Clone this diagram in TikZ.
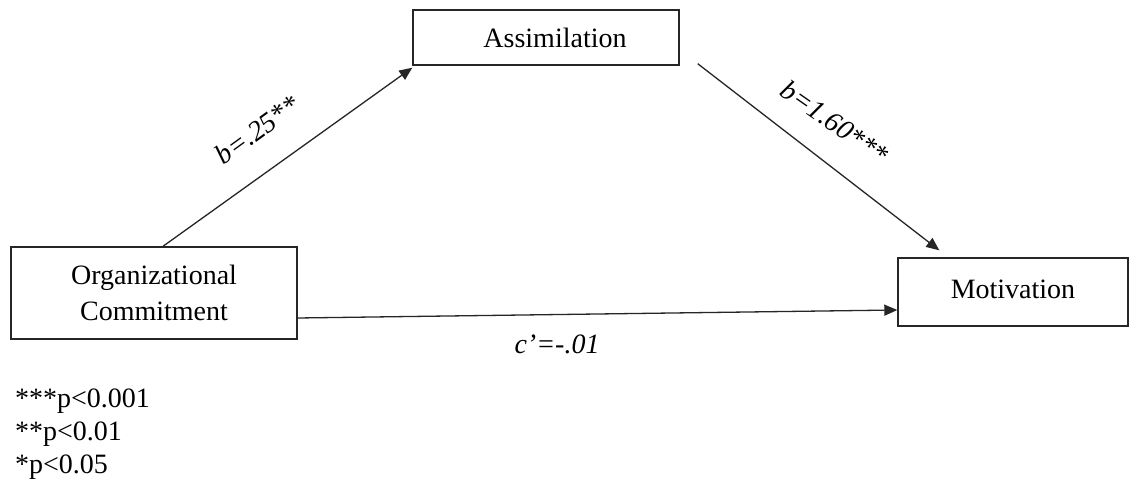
\documentclass[tikz,border=0pt]{standalone}
\usepackage{fontspec}
\setmainfont{Liberation Serif}
\usetikzlibrary{arrows.meta}
\begin{document}
\begin{tikzpicture}[x=1pt,y=-1pt,
  box/.style={draw=black!85, line width=1.4pt, rectangle, inner sep=0pt, align=center,
    font=\fontsize{28}{36}\selectfont},
  conn/.style={draw=black!85, line width=1.3pt, -{Triangle[length=13pt,width=11pt]}},
  lab/.style={inner sep=0pt, font=\fontsize{28}{34}\selectfont\itshape},
  leg/.style={inner sep=0pt, anchor=base west, font=\fontsize{28}{34}\selectfont}]
\useasboundingbox (0,0) rectangle (1130,486);
\fill[white] (0,0) rectangle (1130,486);
\node[box, minimum width=286pt, minimum height=92pt] (oc) at (154,293) {Organizational\\Commitment};
\node[box, minimum width=266pt, minimum height=55pt] (assim) at (546,37.5) {\hspace*{18pt}Assimilation};
\node[box, minimum width=230pt, minimum height=68pt] (mot) at (1013,292) {\raisebox{6pt}{Motivation}};
\draw[conn] ([xshift=9pt]oc.north) -- ([yshift=-2pt]assim.south west);
\draw[conn] ([xshift=18pt,yshift=2pt]assim.south east) -- ([xshift=42pt,yshift=7pt]mot.north west);
\draw[conn] ([yshift=-25pt]oc.east) -- ([yshift=-18pt]mot.west);
\node[lab, rotate=36] (l1) at (257,130) {b=.25**};
\node[lab, rotate=-35] (l2) at (835,122) {b=1.60***};
\node[lab, anchor=base] (l3) at (557,353) {c’=-.01};
\node[leg] (p1) at (15,407) {***p<0.001};
\node[leg] (p2) at (15,440) {**p<0.01};
\node[leg] (p3) at (15,473) {*p<0.05};
\end{tikzpicture}
\end{document}
